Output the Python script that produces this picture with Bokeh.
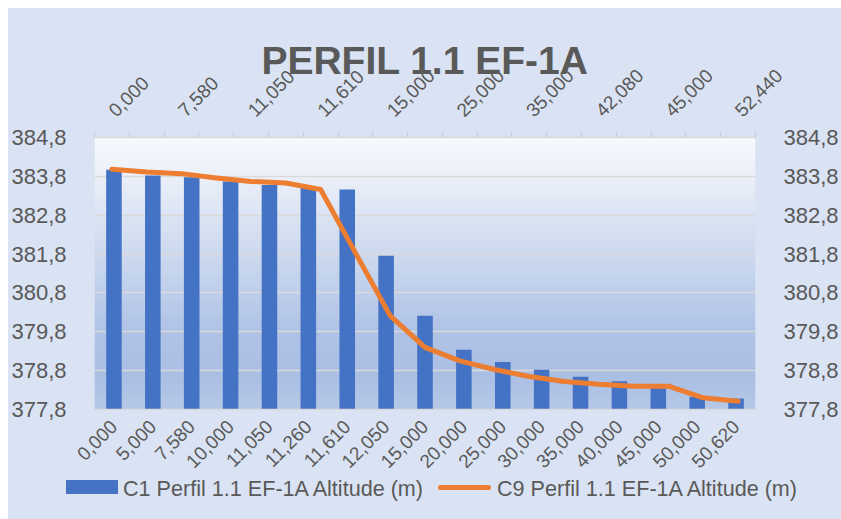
import math
from bokeh.plotting import figure
from bokeh.layouts import column
from bokeh.models import (Range1d, LinearAxis, FixedTicker, CustomJSTickFormatter,
                          BoxAnnotation, Div, ColumnDataSource)
from bokeh.embed import file_html
from bokeh.resources import INLINE

# ---- data ----
title_text = "PERFIL 1.1 EF-1A"
c1_label = "C1 Perfil 1.1 EF-1A Altitude (m)"
c9_label = "C9 Perfil 1.1 EF-1A Altitude (m)"

c1_categories = ["0,000", "5,000", "7,580", "10,000", "11,050", "11,260", "11,610",
                 "12,050", "15,000", "20,000", "25,000", "30,000", "35,000", "40,000",
                 "45,000", "50,000", "50,620"]
c1_altitude = [383.97, 383.82, 383.78, 383.67, 383.58, 383.52, 383.46,
               381.76, 380.21, 379.34, 379.02, 378.82, 378.64, 378.53,
               378.42, 378.12, 378.08]

c9_categories = ["0,000", "5,000", "7,580", "10,000", "11,050", "11,260", "11,610",
                 "12,050", "15,000", "20,000", "25,000", "30,000", "35,000", "40,000",
                 "42,080", "44,000", "45,000", "50,000", "52,440"]
c9_altitude = [383.98, 383.91, 383.87, 383.76, 383.67, 383.63, 383.46,
               381.83, 380.21, 379.40, 379.05, 378.83, 378.65, 378.52,
               378.45, 378.40, 378.40, 378.10, 378.01]

y_min, y_max, y_step = 377.8, 384.8, 1.0

# ---- styles ----
BG = "#DAE3F3"
TXT = "#595959"
BAR = "#4472C4"
LINE = "#ED7D31"
GRID = "#D9D9D9"
FONT = "Liberation Sans"

n1 = len(c1_categories)
n9 = len(c9_categories)

p = figure(width=833, height=468, output_backend="svg", toolbar_location=None,
           x_range=Range1d(-0.5, n1 - 0.5), y_range=Range1d(y_min, y_max),
           x_axis_location=None, y_axis_location=None)
p.extra_x_ranges = {"sec": Range1d(-0.5, n9 - 0.5)}

p.min_border_left = 82
p.min_border_right = 77
p.min_border_top = 129
p.min_border_bottom = 65
p.border_fill_color = BG
p.background_fill_color = BG
p.outline_line_color = None

# plot-area gradient (decoration)
stops = [(0.0, (0xF7, 0xF9, 0xFD)), (0.15, (0xEA, 0xEF, 0xF8)), (0.45, (0xCA, 0xD7, 0xEE)),
         (0.72, (0xAF, 0xC2, 0xE6)), (0.88, (0xAA, 0xBF, 0xE4)), (1.0, (0xB6, 0xC8, 0xE8))]

def grad(f):
    for (f0, c0), (f1, c1c) in zip(stops[:-1], stops[1:]):
        if f0 <= f <= f1:
            t = (f - f0) / (f1 - f0) if f1 > f0 else 0
            return "#%02x%02x%02x" % tuple(int(round(a + (b - a) * t)) for a, b in zip(c0, c1c))
    return "#%02x%02x%02x" % stops[-1][1]

N = 80
span = y_max - y_min
for k in range(N):
    f = (k + 0.5) / N
    top = y_max - span * k / N
    bot = y_max - span * (k + 1) / N - span * 0.004
    p.add_layout(BoxAnnotation(top=top, bottom=max(bot, y_min), fill_color=grad(f), fill_alpha=1.0,
                               line_alpha=0, level="image"))

# ticks
yticks = [round(y_min + i * y_step, 1) for i in range(int(round(span / y_step)) + 1)]
yticker = FixedTicker(ticks=yticks, minor_ticks=[])
yfmt = CustomJSTickFormatter(code="return tick.toFixed(1).replace('.', ',');")

p.xgrid.visible = False
p.ygrid.ticker = yticker
p.ygrid.grid_line_color = GRID
p.ygrid.grid_line_width = 1.5

def style_axis(ax, size):
    ax.major_label_text_font = FONT
    ax.major_label_text_font_size = size
    ax.major_label_text_color = TXT
    ax.minor_tick_line_color = None
    ax.major_tick_line_color = None

left = LinearAxis(ticker=yticker, formatter=yfmt)
style_axis(left, "22px")
left.axis_line_color = None
left.major_label_standoff = 22
p.add_layout(left, "left")

right = LinearAxis(ticker=yticker, formatter=yfmt)
style_axis(right, "22px")
right.axis_line_color = None
right.major_label_standoff = 22
p.add_layout(right, "right")

bfmt = CustomJSTickFormatter(args=dict(labels=c1_categories),
                             code="const i = Math.round(tick); return (i >= 0 && i < labels.length) ? labels[i] : '';")
bottom = LinearAxis(ticker=FixedTicker(ticks=list(range(n1)), minor_ticks=[]), formatter=bfmt)
style_axis(bottom, "19px")
bottom.axis_line_color = GRID
bottom.axis_line_width = 1.5
bottom.major_label_orientation = math.pi / 4
bottom.major_label_standoff = 8
p.add_layout(bottom, "below")

tfmt = CustomJSTickFormatter(args=dict(labels=c9_categories),
                             code="const i = Math.round(tick); return (i >= 0 && i < labels.length) ? labels[i] : '';")
top = LinearAxis(x_range_name="sec",
                 ticker=FixedTicker(ticks=list(range(0, n9, 2)),
                                    minor_ticks=[i - 0.5 for i in range(n9 + 1)]),
                 formatter=tfmt)
style_axis(top, "19px")
top.axis_line_color = GRID
top.axis_line_width = 1.5
top.minor_tick_line_color = "#C9CED6"
top.minor_tick_out = 6
top.minor_tick_in = 0
top.major_tick_out = 0
top.major_tick_in = 0
top.major_label_orientation = math.pi / 4
top.major_label_standoff = 18
p.add_layout(top, "above")

# data glyphs
src1 = ColumnDataSource(dict(x=list(range(n1)), y=c1_altitude))
src9 = ColumnDataSource(dict(x=list(range(n9)), y=c9_altitude))
p.vbar(x="x", top="y", bottom=y_min, width=0.4, source=src1,
       fill_color=BAR, line_color=None)
p.line(x="x", y="y", source=src9, x_range_name="sec", line_color=LINE,
       line_width=5, line_join="round", line_cap="round")

p.title.text = title_text
p.title.align = "center"
p.title.text_font = FONT
p.title.text_font_style = "bold"
p.title.text_font_size = "39px"
p.title.text_color = TXT
p.title.standoff = -42

# ---- legend strip below the chart ----
legend_html = (
    f'<div style="position:relative;width:833px;height:43px;background:{BG};'
    f'font-family:\'{FONT}\';font-size:21.6px;line-height:22px;color:{TXT};white-space:nowrap;">'
    f'<span style="position:absolute;left:58px;top:4px;width:52px;height:14px;background:{BAR};"></span>'
    f'<span style="position:absolute;left:115px;top:2px;">{c1_label}</span>'
    f'<span style="position:absolute;left:430px;top:9px;width:53px;height:5px;border-radius:3px;background:{LINE};"></span>'
    f'<span style="position:absolute;left:489px;top:2px;">{c9_label}</span>'
    '</div>'
)
q = Div(text=legend_html, width=833, height=43, margin=0,
        styles={"background-color": BG})

layout = column(p, q, spacing=0, margin=(8, 0, 0, 8), styles={"background-color": BG})

open("out.html", "w").write(file_html(layout, INLINE))
